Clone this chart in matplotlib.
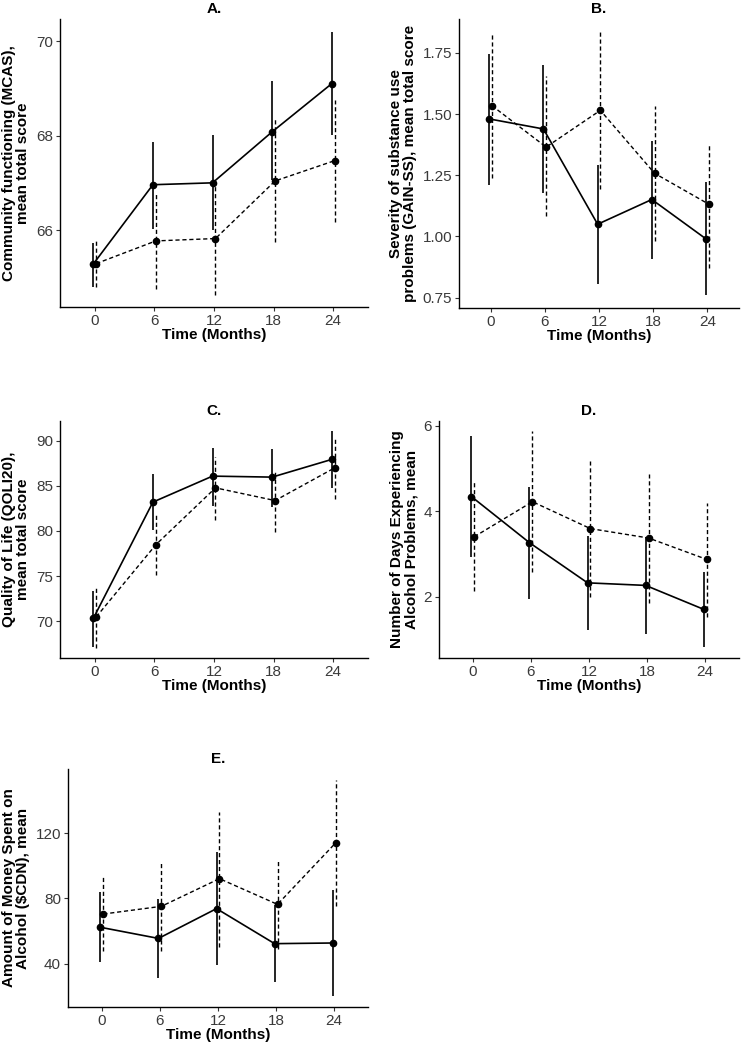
import numpy as np
import matplotlib
matplotlib.use("Agg")
import matplotlib.pyplot as plt

plt.rcParams['font.family'] = ['Liberation Sans', 'DejaVu Sans']

months = [0, 6, 12, 18, 24]

# A. Community functioning (MCAS)
a_solid = [65.28, 66.96, 67.00, 68.08, 69.10]
a_solid_lo = [64.79, 66.03, 66.00, 67.06, 68.01]
a_solid_hi = [65.72, 67.87, 68.01, 69.16, 70.20]
a_dash = [65.29, 65.77, 65.82, 67.04, 67.47]
a_dash_lo = [64.79, 64.76, 64.62, 65.75, 66.18]
a_dash_hi = [65.82, 66.76, 66.99, 68.36, 68.75]

# B. Severity of substance use problems (GAIN-SS)
b_solid = [1.48, 1.439, 1.05, 1.151, 0.99]
b_solid_lo = [1.212, 1.179, 0.808, 0.91, 0.763]
b_solid_hi = [1.747, 1.70, 1.29, 1.389, 1.223]
b_dash = [1.534, 1.365, 1.515, 1.258, 1.132]
b_dash_lo = [1.239, 1.083, 1.195, 0.982, 0.871]
b_dash_hi = [1.829, 1.654, 1.838, 1.531, 1.379]

# C. Quality of Life (QOLI20)
c_solid = [70.3, 83.2, 86.08, 85.97, 87.93]
c_solid_lo = [67.14, 80.08, 82.82, 82.67, 84.78]
c_solid_hi = [73.37, 86.26, 89.22, 89.08, 91.08]
c_dash = [70.48, 78.48, 84.78, 83.37, 87.0]
c_dash_lo = [67.08, 75.08, 81.19, 79.92, 83.49]
c_dash_hi = [73.81, 81.96, 88.16, 86.7, 90.33]

# D. Days experiencing alcohol problems
d_solid = [4.34, 3.26, 2.32, 2.26, 1.70]
d_solid_lo = [2.93, 1.93, 1.21, 1.12, 0.81]
d_solid_hi = [5.75, 4.57, 3.42, 3.40, 2.58]
d_dash = [3.40, 4.22, 3.59, 3.37, 2.87]
d_dash_lo = [2.13, 2.58, 1.99, 1.84, 1.52]
d_dash_hi = [4.69, 5.88, 5.18, 4.87, 4.20]

# E. Money spent on alcohol
e_solid = [62.4, 55.6, 73.8, 52.4, 52.8]
e_solid_lo = [41.0, 31.4, 39.6, 28.8, 20.6]
e_solid_hi = [83.7, 79.9, 108.2, 75.8, 85.4]
e_dash = [70.5, 75.2, 92.1, 76.4, 113.9]
e_dash_lo = [47.7, 47.7, 50.2, 49.3, 75.6]
e_dash_hi = [93.5, 101.7, 132.8, 103.1, 152.1]

W, H = 742, 1048
fig = plt.figure(figsize=(W / 100, H / 100), dpi=100)


def rect(left, top, right, bottom):
    return [left / W, 1 - bottom / H, (right - left) / W, (bottom - top) / H]


panels = [
    ("A.", rect(60, 19, 368, 307), (64.37, 70.47), [66, 68, 70], ["66", "68", "70"],
     "Community functioning (MCAS),\nmean total score",
     (a_solid, a_solid_lo, a_solid_hi, a_dash, a_dash_lo, a_dash_hi)),
    ("B.", rect(459, 19, 739, 308), (0.708, 1.888), [0.75, 1.0, 1.25, 1.5, 1.75],
     ["0.75", "1.00", "1.25", "1.50", "1.75"],
     "Severity of substance use\nproblems (GAIN-SS), mean total score",
     (b_solid, b_solid_lo, b_solid_hi, b_dash, b_dash_lo, b_dash_hi)),
    ("C.", rect(60, 421, 368, 658), (65.92, 92.19), [70, 75, 80, 85, 90],
     ["70", "75", "80", "85", "90"],
     "Quality of Life (QOLI20),\nmean total score",
     (c_solid, c_solid_lo, c_solid_hi, c_dash, c_dash_lo, c_dash_hi)),
    ("D.", rect(439, 421, 739, 658), (0.56, 6.11), [2, 4, 6], ["2", "4", "6"],
     "Number of Days Experiencing\nAlcohol Problems, mean",
     (d_solid, d_solid_lo, d_solid_hi, d_dash, d_dash_lo, d_dash_hi)),
    ("E.", rect(68, 769, 368, 1007), (13.7, 159.1), [40, 80, 120], ["40", "80", "120"],
     "Amount of Money Spent on\nAlcohol ($CDN), mean",
     (e_solid, e_solid_lo, e_solid_hi, e_dash, e_dash_lo, e_dash_hi)),
]

dash = (0, (3, 2))
off = 0.15
x = np.array(months, dtype=float)

for title, pos, ylim, yt, ytl, ylab, vals in panels:
    s, slo, shi, d, dlo, dhi = vals
    ax = fig.add_axes(pos)
    # solid group
    ax.vlines(x - off, slo, shi, color='black', lw=1.2)
    ax.plot(x - off, s, color='black', lw=1.2, marker='o', ms=4.5)
    # dashed group
    ax.vlines(x + off, dlo, dhi, color='black', lw=1.0, linestyles=[dash])
    ax.plot(x + off, d, color='black', lw=1.0, ls=dash, marker='o', ms=4.5)

    ax.set_xlim(-3.5, 27.5)
    ax.set_ylim(*ylim)
    ax.set_xticks(months)
    ax.set_xticklabels([str(m) for m in months])
    ax.set_yticks(yt)
    ax.set_yticklabels(ytl)
    for side in ['top', 'right']:
        ax.spines[side].set_visible(False)
    for side in ['left', 'bottom']:
        ax.spines[side].set_linewidth(1.0)
    ax.tick_params(axis='both', direction='out', length=3, width=0.8,
                   labelsize=11, labelcolor='#3a3a3a', color='#333333', pad=2)
    ax.set_title(title, fontsize=11, fontweight='bold', pad=4)
    ax.set_xlabel("Time (Months)", fontsize=11, fontweight='bold', labelpad=0)
    ax.set_ylabel(ylab, fontsize=11, fontweight='bold', labelpad=4, linespacing=1.0)

fig.savefig("out.png", dpi=100)
